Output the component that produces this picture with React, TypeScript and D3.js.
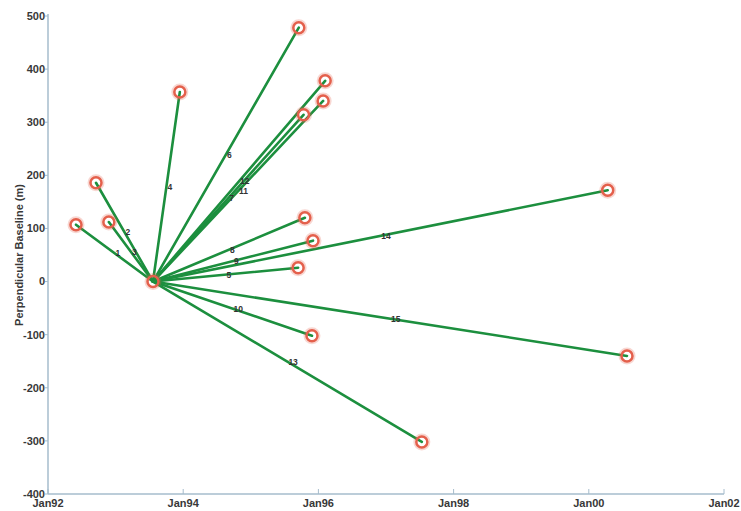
import React from "react";
import * as d3 from "d3";

const masterYear = 1993.553;
const masterBaseline = 0;
const slaveYears = [1992.414, 1992.71, 1992.9, 1993.95, 1995.7, 1995.71, 1995.78, 1995.8, 1995.92, 1995.905, 1996.07, 1996.1, 1997.53, 2000.28, 2000.565];
const slaveBaselines = [107, 186, 112, 357, 26, 478, 314, 120, 77, -102, 340, 378, -302, 172, -140];
const pairLabels = ["1", "2", "3", "4", "5", "6", "7", "8", "9", "10", "11", "12", "13", "14", "15"];
const xTickYears = [1992, 1994, 1996, 1998, 2000, 2002];
const xTickLabels = ["Jan92", "Jan94", "Jan96", "Jan98", "Jan00", "Jan02"];
const yTicks = [-400, -300, -200, -100, 0, 100, 200, 300, 400, 500];

export default function App() {
  const W = 741, H = 511;
  const left = 48, right = 724, top = 16, bottom = 494;
  const x = d3.scaleLinear().domain([1992, 2002]).range([left, right]);
  const y = d3.scaleLinear().domain([-400, 500]).range([bottom, top]);
  const axisColor = "#a6bccc";
  const textColor = "#383838";
  const lineColor = "#1c8f3e";
  const ringColor = "#e4604c";
  const mx = x(masterYear), my = y(masterBaseline);

  return (
    <svg width={W} height={H} style={{ position: "absolute", left: 0, top: 0, background: "#fff" }} fontFamily="Arial, Liberation Sans, sans-serif">
      <line x1={left} y1={top - 2} x2={left} y2={bottom} stroke={axisColor} strokeWidth={1.5} />
      <line x1={left} y1={bottom} x2={right} y2={bottom} stroke={axisColor} strokeWidth={1.5} />
      {yTicks.map((t) => (
        <g key={"y" + t}>
          <line x1={left - 3} x2={left} y1={y(t)} y2={y(t)} stroke={axisColor} strokeWidth={1} />
          <text x={left - 3} y={y(t)} dy="0.35em" textAnchor="end" fontSize={11} fontWeight="bold" fill={textColor}>{t}</text>
        </g>
      ))}
      {xTickYears.map((t, i) => (
        <g key={"x" + t}>
          <line x1={x(t)} x2={x(t)} y1={bottom} y2={bottom - 5} stroke={axisColor} strokeWidth={1} />
          <text x={x(t)} y={bottom + 13} textAnchor="middle" fontSize={11} fontWeight="bold" fill={textColor}>{xTickLabels[i]}</text>
        </g>
      ))}
      <text transform={`translate(19,${(top + bottom) / 2}) rotate(-90)`} textAnchor="middle" dy="0.35em" fontSize={11} fontWeight="bold" fill={textColor}>Perpendicular Baseline (m)</text>

      {slaveYears.map((yr, i) => (
        <line key={"l" + i} x1={mx} y1={my} x2={x(yr)} y2={y(slaveBaselines[i])} stroke={lineColor} strokeWidth={2.6} strokeLinecap="round" />
      ))}
      {slaveYears.map((yr, i) => (
        <text key={"t" + i} x={(mx + x(yr)) / 2 + 1} y={(my + y(slaveBaselines[i])) / 2} dy="0.35em" fontSize={8.5} fontWeight="bold" fill="#333">{pairLabels[i]}</text>
      ))}
      {[[masterYear, masterBaseline], ...slaveYears.map((yr, i) => [yr, slaveBaselines[i]])].map(([yr, b], i) => (
        <g key={"c" + i}>
          <circle cx={x(yr)} cy={y(b)} r={6.5} fill="none" stroke={ringColor} strokeOpacity={0.25} strokeWidth={4} />
          <circle cx={x(yr)} cy={y(b)} r={5.5} fill="none" stroke={ringColor} strokeWidth={2.5} />
        </g>
      ))}
    </svg>
  );
}
